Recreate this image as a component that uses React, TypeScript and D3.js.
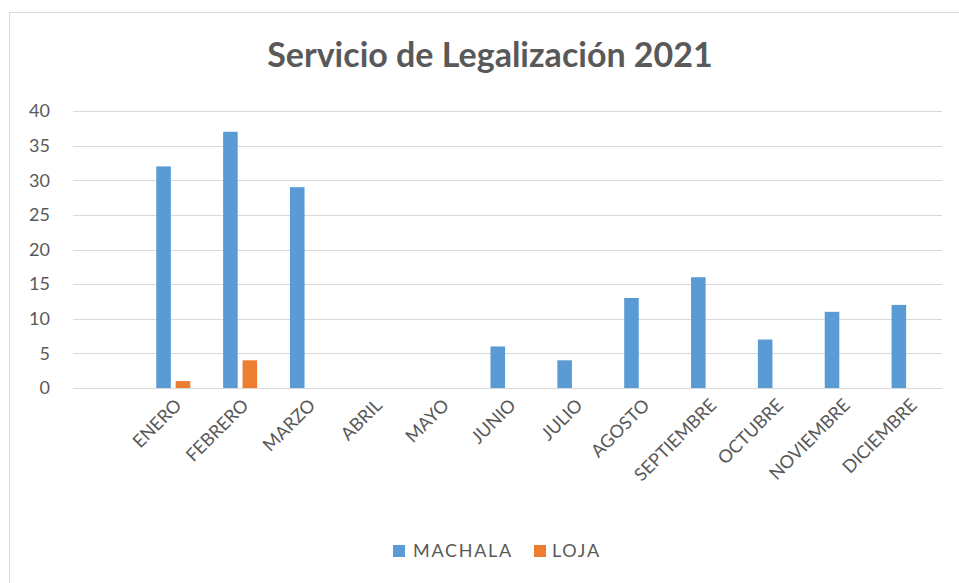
import React from 'react';
import * as d3 from 'd3';

const MONTHS = ['ENERO', 'FEBRERO', 'MARZO', 'ABRIL', 'MAYO', 'JUNIO', 'JULIO', 'AGOSTO', 'SEPTIEMBRE', 'OCTUBRE', 'NOVIEMBRE', 'DICIEMBRE'];
const SERIES = ['MACHALA', 'LOJA'];
const MACHALA = [32, 37, 29, 0, 0, 6, 4, 13, 16, 7, 11, 12];
const LOJA = [1, 4, 0, 0, 0, 0, 0, 0, 0, 0, 0, 0];
const Y_TICKS = [0, 5, 10, 15, 20, 25, 30, 35, 40];

const COLORS: Record<string, string> = { MACHALA: '#5B9BD5', LOJA: '#ED7D31' };
const TEXT = '#595959';
const GRID = '#D9D9D9';
const FONT = 'Lato, "Open Sans", sans-serif';

const W = 959;
const H = 583;

export default function App() {
  // Excel left an empty slot before ENERO; keep it as a blank category
  const x = d3.scaleBand<string>().domain(['', ...MONTHS]).range([73, 942]).padding(0);
  const y = d3.scaleLinear().domain([0, 40]).range([388, 111]);
  const groupW = 34;
  const inner = d3.scaleBand<string>().domain(SERIES).range([0, groupW]).paddingInner(0.25);

  const values: Record<string, number[]> = { MACHALA, LOJA };

  return (
    <div style={{ position: 'fixed', left: 0, top: 0 }}>
      <svg width={W} height={H} style={{ display: 'block', background: '#fff' }}>
        <rect x={9.5} y={12.5} width={W} height={H} fill="#fff" stroke={GRID} strokeWidth={1} />

        <text x={490} y={67} textAnchor="middle" fontFamily={FONT} fontSize={34} fontWeight={700} fill={TEXT}>
          Servicio de Legalización 2021
        </text>

        {Y_TICKS.map(t => (
          <g key={t}>
            <line x1={73} x2={942} y1={Math.round(y(t)) + 0.5} y2={Math.round(y(t)) + 0.5} stroke={GRID} strokeWidth={1} />
            <text x={50} y={y(t)} dy="0.35em" textAnchor="end" fontFamily={FONT} fontSize={18} fill={TEXT}>{t}</text>
          </g>
        ))}

        {MONTHS.map((m, i) => {
          const cx = (x(m) ?? 0) + x.bandwidth() / 2;
          return (
            <g key={m} transform={`translate(${cx - groupW / 2},0)`}>
              {SERIES.map(s => {
                const v = values[s][i];
                if (!v) return null;
                return (
                  <rect key={s} x={inner(s)} y={y(v)} width={inner.bandwidth()} height={y(0) - y(v)} fill={COLORS[s]} />
                );
              })}
            </g>
          );
        })}

        {MONTHS.map(m => {
          const cx = (x(m) ?? 0) + x.bandwidth() / 2;
          return (
            <text key={m} transform={`translate(${cx + 5},${402}) rotate(-45)`} textAnchor="end" dy="0.35em"
              fontFamily={FONT} fontSize={18} fill={TEXT}>{m}</text>
          );
        })}

        <g transform="translate(393,551)">
          <rect x={0} y={-6} width={12} height={12} fill={COLORS.MACHALA} />
          <text x={20} y={0} dy="0.35em" fontFamily={FONT} fontSize={18} fill={TEXT} letterSpacing={1.7}>MACHALA</text>
          <rect x={141} y={-6} width={12} height={12} fill={COLORS.LOJA} />
          <text x={159} y={0} dy="0.35em" fontFamily={FONT} fontSize={18} fill={TEXT} letterSpacing={1.7}>LOJA</text>
        </g>
      </svg>
    </div>
  );
}
